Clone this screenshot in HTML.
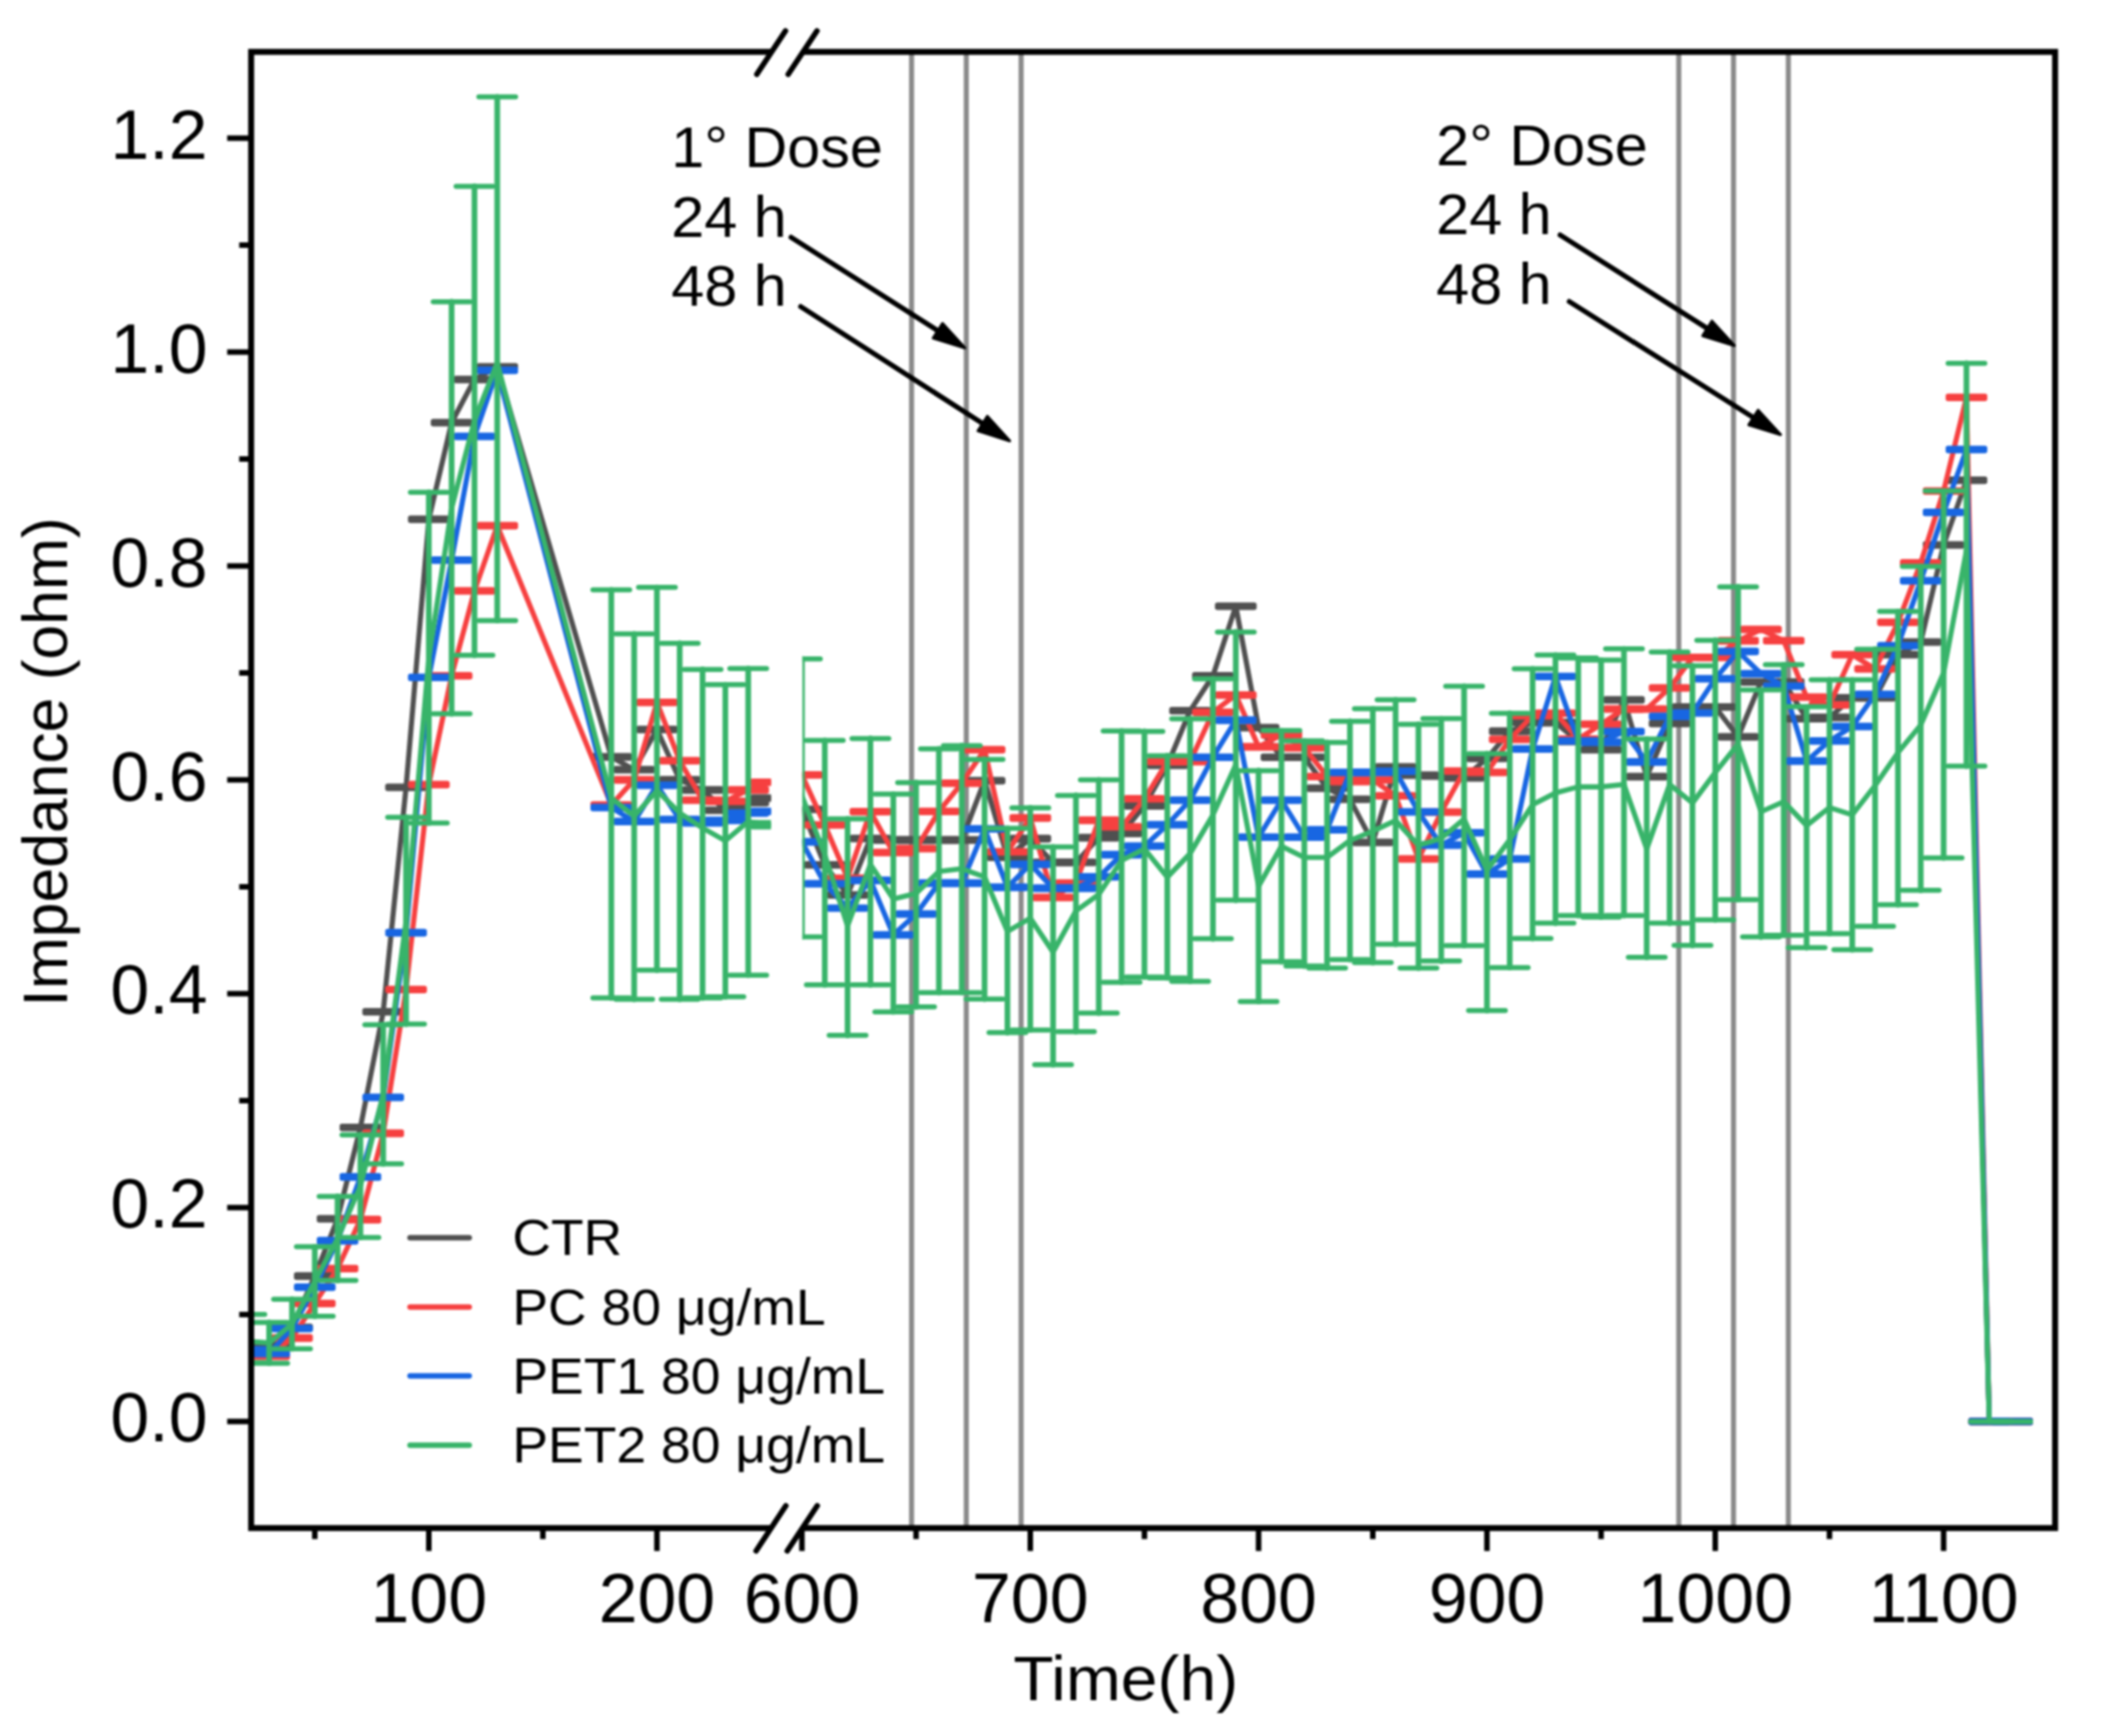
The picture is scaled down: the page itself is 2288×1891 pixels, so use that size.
<!DOCTYPE html>
<html><head><meta charset="utf-8"><title>Impedance chart</title>
<style>html,body{margin:0;padding:0;background:#fff;}svg{display:block;filter:blur(1px);}</style>
</head><body>
<svg width="2288" height="1891" viewBox="0 0 2288 1891"><defs>
<clipPath id="clipL"><rect x="273.5" y="56.6" width="566.1" height="1607.9"/></clipPath>
<clipPath id="clipR"><rect x="873.8" y="56.6" width="1364.2" height="1607.9"/></clipPath>
</defs><rect width="2288" height="1891" fill="#fff"/><line x1="992.7" y1="56.6" x2="992.7" y2="1664.5" stroke="#8a8a8a" stroke-width="5.5"/>
<line x1="1052.3" y1="56.6" x2="1052.3" y2="1664.5" stroke="#8a8a8a" stroke-width="5.5"/>
<line x1="1112.0" y1="56.6" x2="1112.0" y2="1664.5" stroke="#8a8a8a" stroke-width="5.5"/>
<line x1="1828.2" y1="56.6" x2="1828.2" y2="1664.5" stroke="#8a8a8a" stroke-width="5.5"/>
<line x1="1887.8" y1="56.6" x2="1887.8" y2="1664.5" stroke="#8a8a8a" stroke-width="5.5"/>
<line x1="1947.5" y1="56.6" x2="1947.5" y2="1664.5" stroke="#8a8a8a" stroke-width="5.5"/>
<g clip-path="url(#clipL)" stroke="#505050" stroke-linecap="round" fill="none"><g stroke-width="5.5"><line x1="248.3" y1="1463.1" x2="288.3" y2="1463.1"/><line x1="248.3" y1="1465.9" x2="288.3" y2="1465.9"/><line x1="273.1" y1="1463.1" x2="313.1" y2="1463.1"/><line x1="273.1" y1="1465.9" x2="313.1" y2="1465.9"/><line x1="298.0" y1="1444.5" x2="338.0" y2="1444.5"/><line x1="298.0" y1="1447.3" x2="338.0" y2="1447.3"/><line x1="322.8" y1="1388.6" x2="362.8" y2="1388.6"/><line x1="322.8" y1="1391.4" x2="362.8" y2="1391.4"/><line x1="347.6" y1="1326.3" x2="387.6" y2="1326.3"/><line x1="347.6" y1="1329.0" x2="387.6" y2="1329.0"/><line x1="372.5" y1="1226.7" x2="412.5" y2="1226.7"/><line x1="372.5" y1="1229.5" x2="412.5" y2="1229.5"/><line x1="397.3" y1="1100.8" x2="437.3" y2="1100.8"/><line x1="397.3" y1="1103.6" x2="437.3" y2="1103.6"/><line x1="422.2" y1="856.2" x2="462.2" y2="856.2"/><line x1="422.2" y1="859.0" x2="462.2" y2="859.0"/><line x1="447.0" y1="564.3" x2="487.0" y2="564.3"/><line x1="447.0" y1="567.1" x2="487.0" y2="567.1"/><line x1="471.8" y1="459.0" x2="511.8" y2="459.0"/><line x1="471.8" y1="461.8" x2="511.8" y2="461.8"/><line x1="496.7" y1="411.9" x2="536.7" y2="411.9"/><line x1="496.7" y1="414.7" x2="536.7" y2="414.7"/><line x1="521.5" y1="398.2" x2="561.5" y2="398.2"/><line x1="521.5" y1="401.0" x2="561.5" y2="401.0"/><line x1="645.7" y1="823.1" x2="685.7" y2="823.1"/><line x1="645.7" y1="825.9" x2="685.7" y2="825.9"/><line x1="670.6" y1="837.0" x2="710.6" y2="837.0"/><line x1="670.6" y1="839.8" x2="710.6" y2="839.8"/><line x1="695.4" y1="793.3" x2="735.4" y2="793.3"/><line x1="695.4" y1="796.1" x2="735.4" y2="796.1"/><line x1="720.2" y1="848.1" x2="760.2" y2="848.1"/><line x1="720.2" y1="850.9" x2="760.2" y2="850.9"/><line x1="745.1" y1="859.1" x2="785.1" y2="859.1"/><line x1="745.1" y1="861.9" x2="785.1" y2="861.9"/><line x1="769.9" y1="881.3" x2="809.9" y2="881.3"/><line x1="769.9" y1="884.1" x2="809.9" y2="884.1"/><line x1="794.8" y1="872.9" x2="834.8" y2="872.9"/><line x1="794.8" y1="875.7" x2="834.8" y2="875.7"/><line x1="819.6" y1="867.9" x2="859.6" y2="867.9"/><line x1="819.6" y1="870.7" x2="859.6" y2="870.7"/></g><path d="M268.3,1464.5 L293.1,1464.5 L318.0,1445.9 L342.8,1390.0 L367.6,1327.7 L392.5,1228.1 L417.3,1102.2 L442.2,857.6 L467.0,565.7 L491.8,460.4 L516.7,413.3 L541.5,399.6 L665.7,824.5 L690.6,838.4 L715.4,794.7 L740.2,849.5 L765.1,860.5 L789.9,882.7 L814.8,874.3 L839.6,869.3" stroke-width="5.6" stroke-linejoin="round"/></g>
<g clip-path="url(#clipR)" stroke="#505050" stroke-linecap="round" fill="none"><g stroke-width="5.5"><line x1="853.3" y1="880.3" x2="893.3" y2="880.3"/><line x1="853.3" y1="883.1" x2="893.3" y2="883.1"/><line x1="878.2" y1="940.7" x2="918.2" y2="940.7"/><line x1="878.2" y1="943.5" x2="918.2" y2="943.5"/><line x1="903.0" y1="973.4" x2="943.0" y2="973.4"/><line x1="903.0" y1="976.2" x2="943.0" y2="976.2"/><line x1="927.9" y1="912.0" x2="967.9" y2="912.0"/><line x1="927.9" y1="914.8" x2="967.9" y2="914.8"/><line x1="952.8" y1="913.6" x2="992.8" y2="913.6"/><line x1="952.8" y1="916.4" x2="992.8" y2="916.4"/><line x1="977.6" y1="913.6" x2="1017.6" y2="913.6"/><line x1="977.6" y1="916.4" x2="1017.6" y2="916.4"/><line x1="1002.5" y1="913.6" x2="1042.5" y2="913.6"/><line x1="1002.5" y1="916.4" x2="1042.5" y2="916.4"/><line x1="1027.4" y1="913.6" x2="1067.4" y2="913.6"/><line x1="1027.4" y1="916.4" x2="1067.4" y2="916.4"/><line x1="1052.2" y1="848.9" x2="1092.2" y2="848.9"/><line x1="1052.2" y1="851.7" x2="1092.2" y2="851.7"/><line x1="1077.1" y1="932.4" x2="1117.1" y2="932.4"/><line x1="1077.1" y1="935.2" x2="1117.1" y2="935.2"/><line x1="1102.0" y1="912.1" x2="1142.0" y2="912.1"/><line x1="1102.0" y1="914.9" x2="1142.0" y2="914.9"/><line x1="1126.8" y1="938.0" x2="1166.8" y2="938.0"/><line x1="1126.8" y1="940.8" x2="1166.8" y2="940.8"/><line x1="1151.7" y1="938.0" x2="1191.7" y2="938.0"/><line x1="1151.7" y1="940.8" x2="1191.7" y2="940.8"/><line x1="1176.6" y1="911.1" x2="1216.6" y2="911.1"/><line x1="1176.6" y1="913.9" x2="1216.6" y2="913.9"/><line x1="1201.4" y1="906.5" x2="1241.4" y2="906.5"/><line x1="1201.4" y1="909.3" x2="1241.4" y2="909.3"/><line x1="1226.3" y1="876.4" x2="1266.3" y2="876.4"/><line x1="1226.3" y1="879.2" x2="1266.3" y2="879.2"/><line x1="1251.2" y1="832.3" x2="1291.2" y2="832.3"/><line x1="1251.2" y1="835.1" x2="1291.2" y2="835.1"/><line x1="1276.0" y1="772.8" x2="1316.0" y2="772.8"/><line x1="1276.0" y1="775.6" x2="1316.0" y2="775.6"/><line x1="1300.9" y1="734.7" x2="1340.9" y2="734.7"/><line x1="1300.9" y1="737.5" x2="1340.9" y2="737.5"/><line x1="1325.8" y1="658.9" x2="1365.8" y2="658.9"/><line x1="1325.8" y1="661.7" x2="1365.8" y2="661.7"/><line x1="1350.6" y1="791.2" x2="1390.6" y2="791.2"/><line x1="1350.6" y1="794.0" x2="1390.6" y2="794.0"/><line x1="1375.5" y1="823.4" x2="1415.5" y2="823.4"/><line x1="1375.5" y1="826.2" x2="1415.5" y2="826.2"/><line x1="1400.4" y1="823.4" x2="1440.4" y2="823.4"/><line x1="1400.4" y1="826.2" x2="1440.4" y2="826.2"/><line x1="1425.2" y1="857.3" x2="1465.2" y2="857.3"/><line x1="1425.2" y1="860.1" x2="1465.2" y2="860.1"/><line x1="1450.1" y1="869.3" x2="1490.1" y2="869.3"/><line x1="1450.1" y1="872.1" x2="1490.1" y2="872.1"/><line x1="1475.0" y1="916.3" x2="1515.0" y2="916.3"/><line x1="1475.0" y1="919.1" x2="1515.0" y2="919.1"/><line x1="1499.8" y1="834.0" x2="1539.8" y2="834.0"/><line x1="1499.8" y1="836.8" x2="1539.8" y2="836.8"/><line x1="1524.7" y1="842.9" x2="1564.7" y2="842.9"/><line x1="1524.7" y1="845.7" x2="1564.7" y2="845.7"/><line x1="1549.5" y1="844.0" x2="1589.5" y2="844.0"/><line x1="1549.5" y1="846.8" x2="1589.5" y2="846.8"/><line x1="1574.4" y1="846.0" x2="1614.4" y2="846.0"/><line x1="1574.4" y1="848.8" x2="1614.4" y2="848.8"/><line x1="1599.3" y1="824.8" x2="1639.3" y2="824.8"/><line x1="1599.3" y1="827.6" x2="1639.3" y2="827.6"/><line x1="1624.1" y1="795.1" x2="1664.1" y2="795.1"/><line x1="1624.1" y1="797.9" x2="1664.1" y2="797.9"/><line x1="1649.0" y1="785.6" x2="1689.0" y2="785.6"/><line x1="1649.0" y1="788.4" x2="1689.0" y2="788.4"/><line x1="1673.9" y1="785.6" x2="1713.9" y2="785.6"/><line x1="1673.9" y1="788.4" x2="1713.9" y2="788.4"/><line x1="1698.7" y1="806.1" x2="1738.7" y2="806.1"/><line x1="1698.7" y1="808.9" x2="1738.7" y2="808.9"/><line x1="1723.6" y1="815.3" x2="1763.6" y2="815.3"/><line x1="1723.6" y1="818.1" x2="1763.6" y2="818.1"/><line x1="1748.5" y1="760.9" x2="1788.5" y2="760.9"/><line x1="1748.5" y1="763.7" x2="1788.5" y2="763.7"/><line x1="1773.3" y1="844.6" x2="1813.3" y2="844.6"/><line x1="1773.3" y1="847.4" x2="1813.3" y2="847.4"/><line x1="1798.2" y1="786.8" x2="1838.2" y2="786.8"/><line x1="1798.2" y1="789.6" x2="1838.2" y2="789.6"/><line x1="1823.1" y1="768.8" x2="1863.1" y2="768.8"/><line x1="1823.1" y1="771.6" x2="1863.1" y2="771.6"/><line x1="1847.9" y1="768.8" x2="1887.9" y2="768.8"/><line x1="1847.9" y1="771.6" x2="1887.9" y2="771.6"/><line x1="1872.8" y1="801.2" x2="1912.8" y2="801.2"/><line x1="1872.8" y1="804.0" x2="1912.8" y2="804.0"/><line x1="1897.7" y1="741.4" x2="1937.7" y2="741.4"/><line x1="1897.7" y1="744.2" x2="1937.7" y2="744.2"/><line x1="1922.5" y1="741.4" x2="1962.5" y2="741.4"/><line x1="1922.5" y1="744.2" x2="1962.5" y2="744.2"/><line x1="1947.4" y1="781.5" x2="1987.4" y2="781.5"/><line x1="1947.4" y1="784.3" x2="1987.4" y2="784.3"/><line x1="1972.3" y1="780.1" x2="2012.3" y2="780.1"/><line x1="1972.3" y1="782.9" x2="2012.3" y2="782.9"/><line x1="1997.1" y1="758.7" x2="2037.1" y2="758.7"/><line x1="1997.1" y1="761.5" x2="2037.1" y2="761.5"/><line x1="2022.0" y1="758.7" x2="2062.0" y2="758.7"/><line x1="2022.0" y1="761.5" x2="2062.0" y2="761.5"/><line x1="2046.9" y1="711.8" x2="2086.9" y2="711.8"/><line x1="2046.9" y1="714.6" x2="2086.9" y2="714.6"/><line x1="2071.7" y1="698.0" x2="2111.7" y2="698.0"/><line x1="2071.7" y1="700.8" x2="2111.7" y2="700.8"/><line x1="2096.6" y1="592.3" x2="2136.6" y2="592.3"/><line x1="2096.6" y1="595.0" x2="2136.6" y2="595.0"/><line x1="2121.5" y1="521.7" x2="2161.5" y2="521.7"/><line x1="2121.5" y1="524.5" x2="2161.5" y2="524.5"/><line x1="2146.3" y1="1547.0" x2="2186.3" y2="1547.0"/><line x1="2146.3" y1="1549.8" x2="2186.3" y2="1549.8"/><line x1="2171.2" y1="1547.0" x2="2211.2" y2="1547.0"/><line x1="2171.2" y1="1549.8" x2="2211.2" y2="1549.8"/></g><path d="M873.3,881.7 L898.2,942.1 L923.0,974.8 L947.9,913.4 L972.8,915.0 L997.6,915.0 L1022.5,915.0 L1047.4,915.0 L1072.2,850.3 L1097.1,933.8 L1122.0,913.5 L1146.8,939.4 L1171.7,939.4 L1196.6,912.5 L1221.4,907.9 L1246.3,877.8 L1271.2,833.7 L1296.0,774.2 L1320.9,736.1 L1345.8,660.3 L1370.6,792.6 L1395.5,824.8 L1420.4,824.8 L1445.2,858.7 L1470.1,870.7 L1495.0,917.7 L1519.8,835.4 L1544.7,844.3 L1569.5,845.4 L1594.4,847.4 L1619.3,826.2 L1644.1,796.5 L1669.0,787.0 L1693.9,787.0 L1718.7,807.5 L1743.6,816.7 L1768.5,762.3 L1793.3,846.0 L1818.2,788.2 L1843.1,770.2 L1867.9,770.2 L1892.8,802.6 L1917.7,742.8 L1942.5,742.8 L1967.4,782.9 L1992.3,781.5 L2017.1,760.1 L2042.0,760.1 L2066.9,713.2 L2091.7,699.4 L2116.6,593.6 L2141.5,523.1 L2166.3,1548.4 L2191.2,1548.4" stroke-width="5.6" stroke-linejoin="round"/></g>
<g clip-path="url(#clipL)" stroke="#f64040" stroke-linecap="round" fill="none"><g stroke-width="5.5"><line x1="248.3" y1="1474.8" x2="288.3" y2="1474.8"/><line x1="248.3" y1="1477.6" x2="288.3" y2="1477.6"/><line x1="273.1" y1="1475.9" x2="313.1" y2="1475.9"/><line x1="273.1" y1="1478.7" x2="313.1" y2="1478.7"/><line x1="298.0" y1="1456.1" x2="338.0" y2="1456.1"/><line x1="298.0" y1="1458.9" x2="338.0" y2="1458.9"/><line x1="322.8" y1="1418.4" x2="362.8" y2="1418.4"/><line x1="322.8" y1="1421.2" x2="362.8" y2="1421.2"/><line x1="347.6" y1="1380.5" x2="387.6" y2="1380.5"/><line x1="347.6" y1="1383.3" x2="387.6" y2="1383.3"/><line x1="372.5" y1="1327.1" x2="412.5" y2="1327.1"/><line x1="372.5" y1="1329.9" x2="412.5" y2="1329.9"/><line x1="397.3" y1="1233.1" x2="437.3" y2="1233.1"/><line x1="397.3" y1="1235.9" x2="437.3" y2="1235.9"/><line x1="422.2" y1="1076.4" x2="462.2" y2="1076.4"/><line x1="422.2" y1="1079.2" x2="462.2" y2="1079.2"/><line x1="447.0" y1="853.2" x2="487.0" y2="853.2"/><line x1="447.0" y1="856.0" x2="487.0" y2="856.0"/><line x1="471.8" y1="734.7" x2="511.8" y2="734.7"/><line x1="471.8" y1="737.5" x2="511.8" y2="737.5"/><line x1="496.7" y1="642.3" x2="536.7" y2="642.3"/><line x1="496.7" y1="645.1" x2="536.7" y2="645.1"/><line x1="521.5" y1="571.2" x2="561.5" y2="571.2"/><line x1="521.5" y1="574.0" x2="561.5" y2="574.0"/><line x1="645.7" y1="875.4" x2="685.7" y2="875.4"/><line x1="645.7" y1="878.2" x2="685.7" y2="878.2"/><line x1="670.6" y1="848.1" x2="710.6" y2="848.1"/><line x1="670.6" y1="850.9" x2="710.6" y2="850.9"/><line x1="695.4" y1="763.7" x2="735.4" y2="763.7"/><line x1="695.4" y1="766.5" x2="735.4" y2="766.5"/><line x1="720.2" y1="827.3" x2="760.2" y2="827.3"/><line x1="720.2" y1="830.1" x2="760.2" y2="830.1"/><line x1="745.1" y1="870.2" x2="785.1" y2="870.2"/><line x1="745.1" y1="873.0" x2="785.1" y2="873.0"/><line x1="769.9" y1="871.4" x2="809.9" y2="871.4"/><line x1="769.9" y1="874.2" x2="809.9" y2="874.2"/><line x1="794.8" y1="859.1" x2="834.8" y2="859.1"/><line x1="794.8" y1="861.9" x2="834.8" y2="861.9"/><line x1="819.6" y1="850.7" x2="859.6" y2="850.7"/><line x1="819.6" y1="853.5" x2="859.6" y2="853.5"/></g><path d="M268.3,1476.2 L293.1,1477.3 L318.0,1457.5 L342.8,1419.8 L367.6,1381.9 L392.5,1328.5 L417.3,1234.5 L442.2,1077.8 L467.0,854.6 L491.8,736.1 L516.7,643.7 L541.5,572.6 L665.7,876.8 L690.6,849.5 L715.4,765.1 L740.2,828.7 L765.1,871.6 L789.9,872.8 L814.8,860.5 L839.6,852.1" stroke-width="5.6" stroke-linejoin="round"/></g>
<g clip-path="url(#clipR)" stroke="#f64040" stroke-linecap="round" fill="none"><g stroke-width="5.5"><line x1="853.3" y1="842.8" x2="893.3" y2="842.8"/><line x1="853.3" y1="845.6" x2="893.3" y2="845.6"/><line x1="878.2" y1="897.2" x2="918.2" y2="897.2"/><line x1="878.2" y1="900.0" x2="918.2" y2="900.0"/><line x1="903.0" y1="955.2" x2="943.0" y2="955.2"/><line x1="903.0" y1="958.0" x2="943.0" y2="958.0"/><line x1="927.9" y1="882.7" x2="967.9" y2="882.7"/><line x1="927.9" y1="885.5" x2="967.9" y2="885.5"/><line x1="952.8" y1="927.3" x2="992.8" y2="927.3"/><line x1="952.8" y1="930.1" x2="992.8" y2="930.1"/><line x1="977.6" y1="923.0" x2="1017.6" y2="923.0"/><line x1="977.6" y1="925.8" x2="1017.6" y2="925.8"/><line x1="1002.5" y1="882.4" x2="1042.5" y2="882.4"/><line x1="1002.5" y1="885.2" x2="1042.5" y2="885.2"/><line x1="1027.4" y1="851.8" x2="1067.4" y2="851.8"/><line x1="1027.4" y1="854.6" x2="1067.4" y2="854.6"/><line x1="1052.2" y1="815.2" x2="1092.2" y2="815.2"/><line x1="1052.2" y1="818.0" x2="1092.2" y2="818.0"/><line x1="1077.1" y1="926.5" x2="1117.1" y2="926.5"/><line x1="1077.1" y1="929.3" x2="1117.1" y2="929.3"/><line x1="1102.0" y1="889.6" x2="1142.0" y2="889.6"/><line x1="1102.0" y1="892.4" x2="1142.0" y2="892.4"/><line x1="1126.8" y1="976.2" x2="1166.8" y2="976.2"/><line x1="1126.8" y1="979.0" x2="1166.8" y2="979.0"/><line x1="1151.7" y1="960.5" x2="1191.7" y2="960.5"/><line x1="1151.7" y1="963.3" x2="1191.7" y2="963.3"/><line x1="1176.6" y1="892.1" x2="1216.6" y2="892.1"/><line x1="1176.6" y1="894.9" x2="1216.6" y2="894.9"/><line x1="1201.4" y1="899.2" x2="1241.4" y2="899.2"/><line x1="1201.4" y1="902.0" x2="1241.4" y2="902.0"/><line x1="1226.3" y1="868.8" x2="1266.3" y2="868.8"/><line x1="1226.3" y1="871.6" x2="1266.3" y2="871.6"/><line x1="1251.2" y1="828.3" x2="1291.2" y2="828.3"/><line x1="1251.2" y1="831.1" x2="1291.2" y2="831.1"/><line x1="1276.0" y1="828.3" x2="1316.0" y2="828.3"/><line x1="1276.0" y1="831.1" x2="1316.0" y2="831.1"/><line x1="1300.9" y1="774.4" x2="1340.9" y2="774.4"/><line x1="1300.9" y1="777.2" x2="1340.9" y2="777.2"/><line x1="1325.8" y1="755.7" x2="1365.8" y2="755.7"/><line x1="1325.8" y1="758.5" x2="1365.8" y2="758.5"/><line x1="1350.6" y1="812.1" x2="1390.6" y2="812.1"/><line x1="1350.6" y1="814.9" x2="1390.6" y2="814.9"/><line x1="1375.5" y1="799.1" x2="1415.5" y2="799.1"/><line x1="1375.5" y1="801.9" x2="1415.5" y2="801.9"/><line x1="1400.4" y1="813.1" x2="1440.4" y2="813.1"/><line x1="1400.4" y1="815.9" x2="1440.4" y2="815.9"/><line x1="1425.2" y1="844.5" x2="1465.2" y2="844.5"/><line x1="1425.2" y1="847.2" x2="1465.2" y2="847.2"/><line x1="1450.1" y1="850.0" x2="1490.1" y2="850.0"/><line x1="1450.1" y1="852.8" x2="1490.1" y2="852.8"/><line x1="1475.0" y1="848.1" x2="1515.0" y2="848.1"/><line x1="1475.0" y1="850.9" x2="1515.0" y2="850.9"/><line x1="1499.8" y1="865.5" x2="1539.8" y2="865.5"/><line x1="1499.8" y1="868.3" x2="1539.8" y2="868.3"/><line x1="1524.7" y1="934.3" x2="1564.7" y2="934.3"/><line x1="1524.7" y1="937.1" x2="1564.7" y2="937.1"/><line x1="1549.5" y1="883.2" x2="1589.5" y2="883.2"/><line x1="1549.5" y1="886.0" x2="1589.5" y2="886.0"/><line x1="1574.4" y1="838.4" x2="1614.4" y2="838.4"/><line x1="1574.4" y1="841.2" x2="1614.4" y2="841.2"/><line x1="1599.3" y1="839.9" x2="1639.3" y2="839.9"/><line x1="1599.3" y1="842.7" x2="1639.3" y2="842.7"/><line x1="1624.1" y1="804.0" x2="1664.1" y2="804.0"/><line x1="1624.1" y1="806.8" x2="1664.1" y2="806.8"/><line x1="1649.0" y1="778.2" x2="1689.0" y2="778.2"/><line x1="1649.0" y1="781.0" x2="1689.0" y2="781.0"/><line x1="1673.9" y1="775.5" x2="1713.9" y2="775.5"/><line x1="1673.9" y1="778.3" x2="1713.9" y2="778.3"/><line x1="1698.7" y1="803.8" x2="1738.7" y2="803.8"/><line x1="1698.7" y1="806.6" x2="1738.7" y2="806.6"/><line x1="1723.6" y1="787.5" x2="1763.6" y2="787.5"/><line x1="1723.6" y1="790.3" x2="1763.6" y2="790.3"/><line x1="1748.5" y1="770.9" x2="1788.5" y2="770.9"/><line x1="1748.5" y1="773.7" x2="1788.5" y2="773.7"/><line x1="1773.3" y1="770.9" x2="1813.3" y2="770.9"/><line x1="1773.3" y1="773.7" x2="1813.3" y2="773.7"/><line x1="1798.2" y1="748.0" x2="1838.2" y2="748.0"/><line x1="1798.2" y1="750.8" x2="1838.2" y2="750.8"/><line x1="1823.1" y1="714.8" x2="1863.1" y2="714.8"/><line x1="1823.1" y1="717.6" x2="1863.1" y2="717.6"/><line x1="1847.9" y1="714.8" x2="1887.9" y2="714.8"/><line x1="1847.9" y1="717.6" x2="1887.9" y2="717.6"/><line x1="1872.8" y1="696.6" x2="1912.8" y2="696.6"/><line x1="1872.8" y1="699.4" x2="1912.8" y2="699.4"/><line x1="1897.7" y1="684.3" x2="1937.7" y2="684.3"/><line x1="1897.7" y1="687.1" x2="1937.7" y2="687.1"/><line x1="1922.5" y1="696.5" x2="1962.5" y2="696.5"/><line x1="1922.5" y1="699.3" x2="1962.5" y2="699.3"/><line x1="1947.4" y1="757.9" x2="1987.4" y2="757.9"/><line x1="1947.4" y1="760.7" x2="1987.4" y2="760.7"/><line x1="1972.3" y1="766.5" x2="2012.3" y2="766.5"/><line x1="1972.3" y1="769.3" x2="2012.3" y2="769.3"/><line x1="1997.1" y1="711.8" x2="2037.1" y2="711.8"/><line x1="1997.1" y1="714.6" x2="2037.1" y2="714.6"/><line x1="2022.0" y1="727.3" x2="2062.0" y2="727.3"/><line x1="2022.0" y1="730.1" x2="2062.0" y2="730.1"/><line x1="2046.9" y1="676.5" x2="2086.9" y2="676.5"/><line x1="2046.9" y1="679.3" x2="2086.9" y2="679.3"/><line x1="2071.7" y1="611.8" x2="2111.7" y2="611.8"/><line x1="2071.7" y1="614.6" x2="2111.7" y2="614.6"/><line x1="2096.6" y1="533.5" x2="2136.6" y2="533.5"/><line x1="2096.6" y1="536.3" x2="2136.6" y2="536.3"/><line x1="2121.5" y1="431.5" x2="2161.5" y2="431.5"/><line x1="2121.5" y1="434.3" x2="2161.5" y2="434.3"/><line x1="2146.3" y1="1547.0" x2="2186.3" y2="1547.0"/><line x1="2146.3" y1="1549.8" x2="2186.3" y2="1549.8"/><line x1="2171.2" y1="1547.0" x2="2211.2" y2="1547.0"/><line x1="2171.2" y1="1549.8" x2="2211.2" y2="1549.8"/></g><path d="M873.3,844.2 L898.2,898.6 L923.0,956.6 L947.9,884.1 L972.8,928.7 L997.6,924.4 L1022.5,883.8 L1047.4,853.2 L1072.2,816.6 L1097.1,927.9 L1122.0,891.0 L1146.8,977.6 L1171.7,961.9 L1196.6,893.5 L1221.4,900.6 L1246.3,870.2 L1271.2,829.7 L1296.0,829.7 L1320.9,775.8 L1345.8,757.1 L1370.6,813.5 L1395.5,800.5 L1420.4,814.5 L1445.2,845.8 L1470.1,851.4 L1495.0,849.5 L1519.8,866.9 L1544.7,935.7 L1569.5,884.6 L1594.4,839.8 L1619.3,841.3 L1644.1,805.4 L1669.0,779.6 L1693.9,776.9 L1718.7,805.2 L1743.6,788.9 L1768.5,772.3 L1793.3,772.3 L1818.2,749.4 L1843.1,716.2 L1867.9,716.2 L1892.8,698.0 L1917.7,685.7 L1942.5,697.9 L1967.4,759.3 L1992.3,767.9 L2017.1,713.2 L2042.0,728.7 L2066.9,677.9 L2091.7,613.2 L2116.6,534.9 L2141.5,432.9 L2166.3,1548.4 L2191.2,1548.4" stroke-width="5.6" stroke-linejoin="round"/></g>
<g clip-path="url(#clipL)" stroke="#1866e2" stroke-linecap="round" fill="none"><g stroke-width="5.5"><line x1="248.3" y1="1469.0" x2="288.3" y2="1469.0"/><line x1="248.3" y1="1471.7" x2="288.3" y2="1471.7"/><line x1="273.1" y1="1472.9" x2="313.1" y2="1472.9"/><line x1="273.1" y1="1475.7" x2="313.1" y2="1475.7"/><line x1="298.0" y1="1445.7" x2="338.0" y2="1445.7"/><line x1="298.0" y1="1448.5" x2="338.0" y2="1448.5"/><line x1="322.8" y1="1400.8" x2="362.8" y2="1400.8"/><line x1="322.8" y1="1403.6" x2="362.8" y2="1403.6"/><line x1="347.6" y1="1350.1" x2="387.6" y2="1350.1"/><line x1="347.6" y1="1352.9" x2="387.6" y2="1352.9"/><line x1="372.5" y1="1280.6" x2="412.5" y2="1280.6"/><line x1="372.5" y1="1283.4" x2="412.5" y2="1283.4"/><line x1="397.3" y1="1194.0" x2="437.3" y2="1194.0"/><line x1="397.3" y1="1196.8" x2="437.3" y2="1196.8"/><line x1="422.2" y1="1014.6" x2="462.2" y2="1014.6"/><line x1="422.2" y1="1017.4" x2="462.2" y2="1017.4"/><line x1="447.0" y1="736.5" x2="487.0" y2="736.5"/><line x1="447.0" y1="739.3" x2="487.0" y2="739.3"/><line x1="471.8" y1="608.8" x2="511.8" y2="608.8"/><line x1="471.8" y1="611.6" x2="511.8" y2="611.6"/><line x1="496.7" y1="473.9" x2="536.7" y2="473.9"/><line x1="496.7" y1="476.7" x2="536.7" y2="476.7"/><line x1="521.5" y1="401.9" x2="561.5" y2="401.9"/><line x1="521.5" y1="404.7" x2="561.5" y2="404.7"/><line x1="645.7" y1="878.3" x2="685.7" y2="878.3"/><line x1="645.7" y1="881.1" x2="685.7" y2="881.1"/><line x1="670.6" y1="893.5" x2="710.6" y2="893.5"/><line x1="670.6" y1="896.3" x2="710.6" y2="896.3"/><line x1="695.4" y1="853.9" x2="735.4" y2="853.9"/><line x1="695.4" y1="856.7" x2="735.4" y2="856.7"/><line x1="720.2" y1="891.2" x2="760.2" y2="891.2"/><line x1="720.2" y1="894.0" x2="760.2" y2="894.0"/><line x1="745.1" y1="895.0" x2="785.1" y2="895.0"/><line x1="745.1" y1="897.8" x2="785.1" y2="897.8"/><line x1="769.9" y1="892.3" x2="809.9" y2="892.3"/><line x1="769.9" y1="895.1" x2="809.9" y2="895.1"/><line x1="794.8" y1="884.2" x2="834.8" y2="884.2"/><line x1="794.8" y1="887.0" x2="834.8" y2="887.0"/><line x1="819.6" y1="882.4" x2="859.6" y2="882.4"/><line x1="819.6" y1="885.2" x2="859.6" y2="885.2"/></g><path d="M268.3,1470.4 L293.1,1474.3 L318.0,1447.1 L342.8,1402.2 L367.6,1351.5 L392.5,1282.0 L417.3,1195.4 L442.2,1016.0 L467.0,737.9 L491.8,610.2 L516.7,475.3 L541.5,403.3 L665.7,879.7 L690.6,894.9 L715.4,855.3 L740.2,892.6 L765.1,896.4 L789.9,893.7 L814.8,885.6 L839.6,883.8" stroke-width="5.6" stroke-linejoin="round"/></g>
<g clip-path="url(#clipR)" stroke="#1866e2" stroke-linecap="round" fill="none"><g stroke-width="5.5"><line x1="853.3" y1="915.6" x2="893.3" y2="915.6"/><line x1="853.3" y1="918.4" x2="893.3" y2="918.4"/><line x1="878.2" y1="961.3" x2="918.2" y2="961.3"/><line x1="878.2" y1="964.1" x2="918.2" y2="964.1"/><line x1="903.0" y1="987.9" x2="943.0" y2="987.9"/><line x1="903.0" y1="990.6" x2="943.0" y2="990.6"/><line x1="927.9" y1="957.6" x2="967.9" y2="957.6"/><line x1="927.9" y1="960.4" x2="967.9" y2="960.4"/><line x1="952.8" y1="1016.9" x2="992.8" y2="1016.9"/><line x1="952.8" y1="1019.7" x2="992.8" y2="1019.7"/><line x1="977.6" y1="994.3" x2="1017.6" y2="994.3"/><line x1="977.6" y1="997.1" x2="1017.6" y2="997.1"/><line x1="1002.5" y1="960.6" x2="1042.5" y2="960.6"/><line x1="1002.5" y1="963.4" x2="1042.5" y2="963.4"/><line x1="1027.4" y1="960.6" x2="1067.4" y2="960.6"/><line x1="1027.4" y1="963.4" x2="1067.4" y2="963.4"/><line x1="1052.2" y1="901.4" x2="1092.2" y2="901.4"/><line x1="1052.2" y1="904.2" x2="1092.2" y2="904.2"/><line x1="1077.1" y1="965.1" x2="1117.1" y2="965.1"/><line x1="1077.1" y1="967.9" x2="1117.1" y2="967.9"/><line x1="1102.0" y1="940.1" x2="1142.0" y2="940.1"/><line x1="1102.0" y1="942.9" x2="1142.0" y2="942.9"/><line x1="1126.8" y1="966.1" x2="1166.8" y2="966.1"/><line x1="1126.8" y1="968.9" x2="1166.8" y2="968.9"/><line x1="1151.7" y1="966.1" x2="1191.7" y2="966.1"/><line x1="1151.7" y1="968.9" x2="1191.7" y2="968.9"/><line x1="1176.6" y1="953.8" x2="1216.6" y2="953.8"/><line x1="1176.6" y1="956.6" x2="1216.6" y2="956.6"/><line x1="1201.4" y1="929.6" x2="1241.4" y2="929.6"/><line x1="1201.4" y1="932.4" x2="1241.4" y2="932.4"/><line x1="1226.3" y1="920.3" x2="1266.3" y2="920.3"/><line x1="1226.3" y1="923.1" x2="1266.3" y2="923.1"/><line x1="1251.2" y1="897.0" x2="1291.2" y2="897.0"/><line x1="1251.2" y1="899.8" x2="1291.2" y2="899.8"/><line x1="1276.0" y1="870.2" x2="1316.0" y2="870.2"/><line x1="1276.0" y1="873.0" x2="1316.0" y2="873.0"/><line x1="1300.9" y1="823.4" x2="1340.9" y2="823.4"/><line x1="1300.9" y1="826.2" x2="1340.9" y2="826.2"/><line x1="1325.8" y1="783.1" x2="1365.8" y2="783.1"/><line x1="1325.8" y1="785.9" x2="1365.8" y2="785.9"/><line x1="1350.6" y1="910.5" x2="1390.6" y2="910.5"/><line x1="1350.6" y1="913.3" x2="1390.6" y2="913.3"/><line x1="1375.5" y1="870.2" x2="1415.5" y2="870.2"/><line x1="1375.5" y1="873.0" x2="1415.5" y2="873.0"/><line x1="1400.4" y1="910.5" x2="1440.4" y2="910.5"/><line x1="1400.4" y1="913.3" x2="1440.4" y2="913.3"/><line x1="1425.2" y1="902.5" x2="1465.2" y2="902.5"/><line x1="1425.2" y1="905.3" x2="1465.2" y2="905.3"/><line x1="1450.1" y1="839.9" x2="1490.1" y2="839.9"/><line x1="1450.1" y1="842.7" x2="1490.1" y2="842.7"/><line x1="1475.0" y1="839.9" x2="1515.0" y2="839.9"/><line x1="1475.0" y1="842.7" x2="1515.0" y2="842.7"/><line x1="1499.8" y1="838.7" x2="1539.8" y2="838.7"/><line x1="1499.8" y1="841.5" x2="1539.8" y2="841.5"/><line x1="1524.7" y1="883.0" x2="1564.7" y2="883.0"/><line x1="1524.7" y1="885.8" x2="1564.7" y2="885.8"/><line x1="1549.5" y1="919.1" x2="1589.5" y2="919.1"/><line x1="1549.5" y1="921.9" x2="1589.5" y2="921.9"/><line x1="1574.4" y1="905.8" x2="1614.4" y2="905.8"/><line x1="1574.4" y1="908.6" x2="1614.4" y2="908.6"/><line x1="1599.3" y1="950.7" x2="1639.3" y2="950.7"/><line x1="1599.3" y1="953.5" x2="1639.3" y2="953.5"/><line x1="1624.1" y1="934.3" x2="1664.1" y2="934.3"/><line x1="1624.1" y1="937.1" x2="1664.1" y2="937.1"/><line x1="1649.0" y1="814.4" x2="1689.0" y2="814.4"/><line x1="1649.0" y1="817.2" x2="1689.0" y2="817.2"/><line x1="1673.9" y1="735.5" x2="1713.9" y2="735.5"/><line x1="1673.9" y1="738.3" x2="1713.9" y2="738.3"/><line x1="1698.7" y1="805.7" x2="1738.7" y2="805.7"/><line x1="1698.7" y1="808.5" x2="1738.7" y2="808.5"/><line x1="1723.6" y1="807.1" x2="1763.6" y2="807.1"/><line x1="1723.6" y1="809.9" x2="1763.6" y2="809.9"/><line x1="1748.5" y1="795.5" x2="1788.5" y2="795.5"/><line x1="1748.5" y1="798.3" x2="1788.5" y2="798.3"/><line x1="1773.3" y1="828.6" x2="1813.3" y2="828.6"/><line x1="1773.3" y1="831.4" x2="1813.3" y2="831.4"/><line x1="1798.2" y1="778.9" x2="1838.2" y2="778.9"/><line x1="1798.2" y1="781.7" x2="1838.2" y2="781.7"/><line x1="1823.1" y1="775.3" x2="1863.1" y2="775.3"/><line x1="1823.1" y1="778.1" x2="1863.1" y2="778.1"/><line x1="1847.9" y1="737.9" x2="1887.9" y2="737.9"/><line x1="1847.9" y1="740.7" x2="1887.9" y2="740.7"/><line x1="1872.8" y1="708.3" x2="1912.8" y2="708.3"/><line x1="1872.8" y1="711.1" x2="1912.8" y2="711.1"/><line x1="1897.7" y1="732.4" x2="1937.7" y2="732.4"/><line x1="1897.7" y1="735.2" x2="1937.7" y2="735.2"/><line x1="1922.5" y1="745.9" x2="1962.5" y2="745.9"/><line x1="1922.5" y1="748.7" x2="1962.5" y2="748.7"/><line x1="1947.4" y1="827.6" x2="1987.4" y2="827.6"/><line x1="1947.4" y1="830.4" x2="1987.4" y2="830.4"/><line x1="1972.3" y1="805.8" x2="2012.3" y2="805.8"/><line x1="1972.3" y1="808.6" x2="2012.3" y2="808.6"/><line x1="1997.1" y1="790.1" x2="2037.1" y2="790.1"/><line x1="1997.1" y1="792.8" x2="2037.1" y2="792.8"/><line x1="2022.0" y1="754.9" x2="2062.0" y2="754.9"/><line x1="2022.0" y1="757.7" x2="2062.0" y2="757.7"/><line x1="2046.9" y1="701.9" x2="2086.9" y2="701.9"/><line x1="2046.9" y1="704.7" x2="2086.9" y2="704.7"/><line x1="2071.7" y1="631.3" x2="2111.7" y2="631.3"/><line x1="2071.7" y1="634.1" x2="2111.7" y2="634.1"/><line x1="2096.6" y1="556.8" x2="2136.6" y2="556.8"/><line x1="2096.6" y1="559.6" x2="2136.6" y2="559.6"/><line x1="2121.5" y1="488.3" x2="2161.5" y2="488.3"/><line x1="2121.5" y1="491.1" x2="2161.5" y2="491.1"/><line x1="2146.3" y1="1547.0" x2="2186.3" y2="1547.0"/><line x1="2146.3" y1="1549.8" x2="2186.3" y2="1549.8"/><line x1="2171.2" y1="1547.0" x2="2211.2" y2="1547.0"/><line x1="2171.2" y1="1549.8" x2="2211.2" y2="1549.8"/></g><path d="M873.3,917.0 L898.2,962.7 L923.0,989.2 L947.9,959.0 L972.8,1018.3 L997.6,995.7 L1022.5,962.0 L1047.4,962.0 L1072.2,902.8 L1097.1,966.5 L1122.0,941.5 L1146.8,967.5 L1171.7,967.5 L1196.6,955.2 L1221.4,931.0 L1246.3,921.7 L1271.2,898.4 L1296.0,871.6 L1320.9,824.8 L1345.8,784.5 L1370.6,911.9 L1395.5,871.6 L1420.4,911.9 L1445.2,903.9 L1470.1,841.3 L1495.0,841.3 L1519.8,840.1 L1544.7,884.4 L1569.5,920.5 L1594.4,907.2 L1619.3,952.1 L1644.1,935.7 L1669.0,815.8 L1693.9,736.9 L1718.7,807.1 L1743.6,808.5 L1768.5,796.9 L1793.3,830.0 L1818.2,780.3 L1843.1,776.7 L1867.9,739.3 L1892.8,709.7 L1917.7,733.8 L1942.5,747.3 L1967.4,829.0 L1992.3,807.2 L2017.1,791.4 L2042.0,756.3 L2066.9,703.3 L2091.7,632.7 L2116.6,558.2 L2141.5,489.7 L2166.3,1548.4 L2191.2,1548.4" stroke-width="5.6" stroke-linejoin="round"/></g>
<g clip-path="url(#clipL)" stroke="#38b46a" stroke-linecap="round" fill="none"><g stroke-width="5.5"><line x1="268.3" y1="1431.8" x2="268.3" y2="1484.3" stroke-width="6.2"/><line x1="248.3" y1="1431.8" x2="288.3" y2="1431.8"/><line x1="248.3" y1="1484.3" x2="288.3" y2="1484.3"/><line x1="293.1" y1="1440.6" x2="293.1" y2="1485.0" stroke-width="6.2"/><line x1="273.1" y1="1440.6" x2="313.1" y2="1440.6"/><line x1="273.1" y1="1485.0" x2="313.1" y2="1485.0"/><line x1="318.0" y1="1415.3" x2="318.0" y2="1469.2" stroke-width="6.2"/><line x1="298.0" y1="1415.3" x2="338.0" y2="1415.3"/><line x1="298.0" y1="1469.2" x2="338.0" y2="1469.2"/><line x1="342.8" y1="1358.1" x2="342.8" y2="1433.7" stroke-width="6.2"/><line x1="322.8" y1="1358.1" x2="362.8" y2="1358.1"/><line x1="322.8" y1="1433.7" x2="362.8" y2="1433.7"/><line x1="367.6" y1="1303.2" x2="367.6" y2="1394.7" stroke-width="6.2"/><line x1="347.6" y1="1303.2" x2="387.6" y2="1303.2"/><line x1="347.6" y1="1394.7" x2="387.6" y2="1394.7"/><line x1="392.5" y1="1236.2" x2="392.5" y2="1348.0" stroke-width="6.2"/><line x1="372.5" y1="1236.2" x2="412.5" y2="1236.2"/><line x1="372.5" y1="1348.0" x2="412.5" y2="1348.0"/><line x1="417.3" y1="1116.2" x2="417.3" y2="1267.7" stroke-width="6.2"/><line x1="397.3" y1="1116.2" x2="437.3" y2="1116.2"/><line x1="397.3" y1="1267.7" x2="437.3" y2="1267.7"/><line x1="442.2" y1="890.2" x2="442.2" y2="1115.6" stroke-width="6.2"/><line x1="422.2" y1="890.2" x2="462.2" y2="890.2"/><line x1="422.2" y1="1115.6" x2="462.2" y2="1115.6"/><line x1="467.0" y1="536.3" x2="467.0" y2="896.5" stroke-width="6.2"/><line x1="447.0" y1="536.3" x2="487.0" y2="536.3"/><line x1="447.0" y1="896.5" x2="487.0" y2="896.5"/><line x1="491.8" y1="328.7" x2="491.8" y2="777.4" stroke-width="6.2"/><line x1="471.8" y1="328.7" x2="511.8" y2="328.7"/><line x1="471.8" y1="777.4" x2="511.8" y2="777.4"/><line x1="516.7" y1="202.9" x2="516.7" y2="713.7" stroke-width="6.2"/><line x1="496.7" y1="202.9" x2="536.7" y2="202.9"/><line x1="496.7" y1="713.7" x2="536.7" y2="713.7"/><line x1="541.5" y1="105.6" x2="541.5" y2="675.9" stroke-width="6.2"/><line x1="521.5" y1="105.6" x2="561.5" y2="105.6"/><line x1="521.5" y1="675.9" x2="561.5" y2="675.9"/><line x1="665.7" y1="642.5" x2="665.7" y2="1087.1" stroke-width="6.2"/><line x1="645.7" y1="642.5" x2="685.7" y2="642.5"/><line x1="645.7" y1="1087.1" x2="685.7" y2="1087.1"/><line x1="690.6" y1="690.5" x2="690.6" y2="1088.5" stroke-width="6.2"/><line x1="670.6" y1="690.5" x2="710.6" y2="690.5"/><line x1="670.6" y1="1088.5" x2="710.6" y2="1088.5"/><line x1="715.4" y1="639.8" x2="715.4" y2="1056.7" stroke-width="6.2"/><line x1="695.4" y1="639.8" x2="735.4" y2="639.8"/><line x1="695.4" y1="1056.7" x2="735.4" y2="1056.7"/><line x1="740.2" y1="700.7" x2="740.2" y2="1088.5" stroke-width="6.2"/><line x1="720.2" y1="700.7" x2="760.2" y2="700.7"/><line x1="720.2" y1="1088.5" x2="760.2" y2="1088.5"/><line x1="765.1" y1="729.2" x2="765.1" y2="1087.1" stroke-width="6.2"/><line x1="745.1" y1="729.2" x2="785.1" y2="729.2"/><line x1="745.1" y1="1087.1" x2="785.1" y2="1087.1"/><line x1="789.9" y1="745.8" x2="789.9" y2="1085.7" stroke-width="6.2"/><line x1="769.9" y1="745.8" x2="809.9" y2="745.8"/><line x1="769.9" y1="1085.7" x2="809.9" y2="1085.7"/><line x1="814.8" y1="728.3" x2="814.8" y2="1062.2" stroke-width="6.2"/><line x1="794.8" y1="728.3" x2="834.8" y2="728.3"/><line x1="794.8" y1="1062.2" x2="834.8" y2="1062.2"/><line x1="819.6" y1="896.1" x2="859.6" y2="896.1"/><line x1="819.6" y1="900.7" x2="859.6" y2="900.7"/></g><path d="M268.3,1461.0 L293.1,1462.8 L318.0,1442.4 L342.8,1395.8 L367.6,1349.2 L392.5,1292.1 L417.3,1191.9 L442.2,1003.2 L467.0,716.7 L491.8,553.6 L516.7,458.1 L541.5,395.1 L665.7,869.3 L690.6,889.1 L715.4,861.1 L740.2,885.6 L765.1,901.9 L789.9,915.9 L814.8,894.9 L839.6,898.4" stroke-width="5.6" stroke-linejoin="round"/></g>
<g clip-path="url(#clipR)" stroke="#38b46a" stroke-linecap="round" fill="none"><g stroke-width="5.5"><line x1="873.3" y1="717.7" x2="873.3" y2="1020.4" stroke-width="6.2"/><line x1="853.3" y1="717.7" x2="893.3" y2="717.7"/><line x1="853.3" y1="1020.4" x2="893.3" y2="1020.4"/><line x1="898.2" y1="806.6" x2="898.2" y2="1072.7" stroke-width="6.2"/><line x1="878.2" y1="806.6" x2="918.2" y2="806.6"/><line x1="878.2" y1="1072.7" x2="918.2" y2="1072.7"/><line x1="923.0" y1="891.9" x2="923.0" y2="1127.8" stroke-width="6.2"/><line x1="903.0" y1="891.9" x2="943.0" y2="891.9"/><line x1="903.0" y1="1127.8" x2="943.0" y2="1127.8"/><line x1="947.9" y1="804.4" x2="947.9" y2="1072.7" stroke-width="6.2"/><line x1="927.9" y1="804.4" x2="967.9" y2="804.4"/><line x1="927.9" y1="1072.7" x2="967.9" y2="1072.7"/><line x1="972.8" y1="865.1" x2="972.8" y2="1102.2" stroke-width="6.2"/><line x1="952.8" y1="865.1" x2="992.8" y2="865.1"/><line x1="952.8" y1="1102.2" x2="992.8" y2="1102.2"/><line x1="997.6" y1="852.4" x2="997.6" y2="1096.7" stroke-width="6.2"/><line x1="977.6" y1="852.4" x2="1017.6" y2="852.4"/><line x1="977.6" y1="1096.7" x2="1017.6" y2="1096.7"/><line x1="1022.5" y1="815.7" x2="1022.5" y2="1081.2" stroke-width="6.2"/><line x1="1002.5" y1="815.7" x2="1042.5" y2="815.7"/><line x1="1002.5" y1="1081.2" x2="1042.5" y2="1081.2"/><line x1="1047.4" y1="812.2" x2="1047.4" y2="1081.2" stroke-width="6.2"/><line x1="1027.4" y1="812.2" x2="1067.4" y2="812.2"/><line x1="1027.4" y1="1081.2" x2="1067.4" y2="1081.2"/><line x1="1072.2" y1="827.2" x2="1072.2" y2="1088.3" stroke-width="6.2"/><line x1="1052.2" y1="827.2" x2="1092.2" y2="827.2"/><line x1="1052.2" y1="1088.3" x2="1092.2" y2="1088.3"/><line x1="1097.1" y1="902.3" x2="1097.1" y2="1124.8" stroke-width="6.2"/><line x1="1077.1" y1="902.3" x2="1117.1" y2="902.3"/><line x1="1077.1" y1="1124.8" x2="1117.1" y2="1124.8"/><line x1="1122.0" y1="879.9" x2="1122.0" y2="1122.0" stroke-width="6.2"/><line x1="1102.0" y1="879.9" x2="1142.0" y2="879.9"/><line x1="1102.0" y1="1122.0" x2="1142.0" y2="1122.0"/><line x1="1146.8" y1="922.6" x2="1146.8" y2="1159.7" stroke-width="6.2"/><line x1="1126.8" y1="922.6" x2="1166.8" y2="922.6"/><line x1="1126.8" y1="1159.7" x2="1166.8" y2="1159.7"/><line x1="1171.7" y1="866.4" x2="1171.7" y2="1123.7" stroke-width="6.2"/><line x1="1151.7" y1="866.4" x2="1191.7" y2="866.4"/><line x1="1151.7" y1="1123.7" x2="1191.7" y2="1123.7"/><line x1="1196.6" y1="849.6" x2="1196.6" y2="1103.5" stroke-width="6.2"/><line x1="1176.6" y1="849.6" x2="1216.6" y2="849.6"/><line x1="1176.6" y1="1103.5" x2="1216.6" y2="1103.5"/><line x1="1221.4" y1="796.3" x2="1221.4" y2="1069.9" stroke-width="6.2"/><line x1="1201.4" y1="796.3" x2="1241.4" y2="796.3"/><line x1="1201.4" y1="1069.9" x2="1241.4" y2="1069.9"/><line x1="1246.3" y1="796.7" x2="1246.3" y2="1064.2" stroke-width="6.2"/><line x1="1226.3" y1="796.7" x2="1266.3" y2="796.7"/><line x1="1226.3" y1="1064.2" x2="1266.3" y2="1064.2"/><line x1="1271.2" y1="823.2" x2="1271.2" y2="1065.2" stroke-width="6.2"/><line x1="1251.2" y1="823.2" x2="1291.2" y2="823.2"/><line x1="1251.2" y1="1065.2" x2="1291.2" y2="1065.2"/><line x1="1296.0" y1="782.9" x2="1296.0" y2="1069.0" stroke-width="6.2"/><line x1="1276.0" y1="782.9" x2="1316.0" y2="782.9"/><line x1="1276.0" y1="1069.0" x2="1316.0" y2="1069.0"/><line x1="1320.9" y1="739.4" x2="1320.9" y2="1022.6" stroke-width="6.2"/><line x1="1300.9" y1="739.4" x2="1340.9" y2="739.4"/><line x1="1300.9" y1="1022.6" x2="1340.9" y2="1022.6"/><line x1="1345.8" y1="688.4" x2="1345.8" y2="980.6" stroke-width="6.2"/><line x1="1325.8" y1="688.4" x2="1365.8" y2="688.4"/><line x1="1325.8" y1="980.6" x2="1365.8" y2="980.6"/><line x1="1370.6" y1="839.4" x2="1370.6" y2="1090.9" stroke-width="6.2"/><line x1="1350.6" y1="839.4" x2="1390.6" y2="839.4"/><line x1="1350.6" y1="1090.9" x2="1390.6" y2="1090.9"/><line x1="1395.5" y1="795.8" x2="1395.5" y2="1047.4" stroke-width="6.2"/><line x1="1375.5" y1="795.8" x2="1415.5" y2="795.8"/><line x1="1375.5" y1="1047.4" x2="1415.5" y2="1047.4"/><line x1="1420.4" y1="807.1" x2="1420.4" y2="1052.3" stroke-width="6.2"/><line x1="1400.4" y1="807.1" x2="1440.4" y2="807.1"/><line x1="1400.4" y1="1052.3" x2="1440.4" y2="1052.3"/><line x1="1445.2" y1="808.7" x2="1445.2" y2="1054.5" stroke-width="6.2"/><line x1="1425.2" y1="808.7" x2="1465.2" y2="808.7"/><line x1="1425.2" y1="1054.5" x2="1465.2" y2="1054.5"/><line x1="1470.1" y1="785.7" x2="1470.1" y2="1045.3" stroke-width="6.2"/><line x1="1450.1" y1="785.7" x2="1490.1" y2="785.7"/><line x1="1450.1" y1="1045.3" x2="1490.1" y2="1045.3"/><line x1="1495.0" y1="772.1" x2="1495.0" y2="1048.4" stroke-width="6.2"/><line x1="1475.0" y1="772.1" x2="1515.0" y2="772.1"/><line x1="1475.0" y1="1048.4" x2="1515.0" y2="1048.4"/><line x1="1519.8" y1="762.3" x2="1519.8" y2="1028.5" stroke-width="6.2"/><line x1="1499.8" y1="762.3" x2="1539.8" y2="762.3"/><line x1="1499.8" y1="1028.5" x2="1539.8" y2="1028.5"/><line x1="1544.7" y1="788.9" x2="1544.7" y2="1054.5" stroke-width="6.2"/><line x1="1524.7" y1="788.9" x2="1564.7" y2="788.9"/><line x1="1524.7" y1="1054.5" x2="1564.7" y2="1054.5"/><line x1="1569.5" y1="782.8" x2="1569.5" y2="1046.8" stroke-width="6.2"/><line x1="1549.5" y1="782.8" x2="1589.5" y2="782.8"/><line x1="1549.5" y1="1046.8" x2="1589.5" y2="1046.8"/><line x1="1594.4" y1="747.6" x2="1594.4" y2="1030.0" stroke-width="6.2"/><line x1="1574.4" y1="747.6" x2="1614.4" y2="747.6"/><line x1="1574.4" y1="1030.0" x2="1614.4" y2="1030.0"/><line x1="1619.3" y1="820.9" x2="1619.3" y2="1100.7" stroke-width="6.2"/><line x1="1599.3" y1="820.9" x2="1639.3" y2="820.9"/><line x1="1599.3" y1="1100.7" x2="1639.3" y2="1100.7"/><line x1="1644.1" y1="776.9" x2="1644.1" y2="1054.0" stroke-width="6.2"/><line x1="1624.1" y1="776.9" x2="1664.1" y2="776.9"/><line x1="1624.1" y1="1054.0" x2="1664.1" y2="1054.0"/><line x1="1669.0" y1="728.5" x2="1669.0" y2="1022.3" stroke-width="6.2"/><line x1="1649.0" y1="728.5" x2="1689.0" y2="728.5"/><line x1="1649.0" y1="1022.3" x2="1689.0" y2="1022.3"/><line x1="1693.9" y1="713.5" x2="1693.9" y2="1005.6" stroke-width="6.2"/><line x1="1673.9" y1="713.5" x2="1713.9" y2="713.5"/><line x1="1673.9" y1="1005.6" x2="1713.9" y2="1005.6"/><line x1="1718.7" y1="716.8" x2="1718.7" y2="997.3" stroke-width="6.2"/><line x1="1698.7" y1="716.8" x2="1738.7" y2="716.8"/><line x1="1698.7" y1="997.3" x2="1738.7" y2="997.3"/><line x1="1743.6" y1="719.0" x2="1743.6" y2="999.0" stroke-width="6.2"/><line x1="1723.6" y1="719.0" x2="1763.6" y2="719.0"/><line x1="1723.6" y1="999.0" x2="1763.6" y2="999.0"/><line x1="1768.5" y1="706.8" x2="1768.5" y2="997.3" stroke-width="6.2"/><line x1="1748.5" y1="706.8" x2="1788.5" y2="706.8"/><line x1="1748.5" y1="997.3" x2="1788.5" y2="997.3"/><line x1="1793.3" y1="805.0" x2="1793.3" y2="1042.7" stroke-width="6.2"/><line x1="1773.3" y1="805.0" x2="1813.3" y2="805.0"/><line x1="1773.3" y1="1042.7" x2="1813.3" y2="1042.7"/><line x1="1818.2" y1="710.3" x2="1818.2" y2="1005.6" stroke-width="6.2"/><line x1="1798.2" y1="710.3" x2="1838.2" y2="710.3"/><line x1="1798.2" y1="1005.6" x2="1838.2" y2="1005.6"/><line x1="1843.1" y1="725.2" x2="1843.1" y2="1029.8" stroke-width="6.2"/><line x1="1823.1" y1="725.2" x2="1863.1" y2="725.2"/><line x1="1823.1" y1="1029.8" x2="1863.1" y2="1029.8"/><line x1="1867.9" y1="697.4" x2="1867.9" y2="1002.1" stroke-width="6.2"/><line x1="1847.9" y1="697.4" x2="1887.9" y2="697.4"/><line x1="1847.9" y1="1002.1" x2="1887.9" y2="1002.1"/><line x1="1892.8" y1="639.2" x2="1892.8" y2="979.9" stroke-width="6.2"/><line x1="1872.8" y1="639.2" x2="1912.8" y2="639.2"/><line x1="1872.8" y1="979.9" x2="1912.8" y2="979.9"/><line x1="1917.7" y1="751.6" x2="1917.7" y2="1020.6" stroke-width="6.2"/><line x1="1897.7" y1="751.6" x2="1937.7" y2="751.6"/><line x1="1897.7" y1="1020.6" x2="1937.7" y2="1020.6"/><line x1="1942.5" y1="724.0" x2="1942.5" y2="1018.7" stroke-width="6.2"/><line x1="1922.5" y1="724.0" x2="1962.5" y2="724.0"/><line x1="1922.5" y1="1018.7" x2="1962.5" y2="1018.7"/><line x1="1967.4" y1="769.8" x2="1967.4" y2="1032.3" stroke-width="6.2"/><line x1="1947.4" y1="769.8" x2="1987.4" y2="769.8"/><line x1="1947.4" y1="1032.3" x2="1987.4" y2="1032.3"/><line x1="1992.3" y1="740.5" x2="1992.3" y2="1016.9" stroke-width="6.2"/><line x1="1972.3" y1="740.5" x2="2012.3" y2="740.5"/><line x1="1972.3" y1="1016.9" x2="2012.3" y2="1016.9"/><line x1="2017.1" y1="740.5" x2="2017.1" y2="1034.4" stroke-width="6.2"/><line x1="1997.1" y1="740.5" x2="2037.1" y2="740.5"/><line x1="1997.1" y1="1034.4" x2="2037.1" y2="1034.4"/><line x1="2042.0" y1="707.2" x2="2042.0" y2="1008.9" stroke-width="6.2"/><line x1="2022.0" y1="707.2" x2="2062.0" y2="707.2"/><line x1="2022.0" y1="1008.9" x2="2062.0" y2="1008.9"/><line x1="2066.9" y1="666.0" x2="2066.9" y2="985.4" stroke-width="6.2"/><line x1="2046.9" y1="666.0" x2="2086.9" y2="666.0"/><line x1="2046.9" y1="985.4" x2="2086.9" y2="985.4"/><line x1="2091.7" y1="617.1" x2="2091.7" y2="969.7" stroke-width="6.2"/><line x1="2071.7" y1="617.1" x2="2111.7" y2="617.1"/><line x1="2071.7" y1="969.7" x2="2111.7" y2="969.7"/><line x1="2116.6" y1="534.8" x2="2116.6" y2="934.5" stroke-width="6.2"/><line x1="2096.6" y1="534.8" x2="2136.6" y2="534.8"/><line x1="2096.6" y1="934.5" x2="2136.6" y2="934.5"/><line x1="2141.5" y1="395.7" x2="2141.5" y2="834.5" stroke-width="6.2"/><line x1="2121.5" y1="395.7" x2="2161.5" y2="395.7"/><line x1="2121.5" y1="834.5" x2="2161.5" y2="834.5"/><line x1="2146.3" y1="1548.4" x2="2186.3" y2="1548.4"/><line x1="2146.3" y1="1548.4" x2="2186.3" y2="1548.4"/><line x1="2171.2" y1="1548.4" x2="2211.2" y2="1548.4"/><line x1="2171.2" y1="1548.4" x2="2211.2" y2="1548.4"/></g><path d="M873.3,866.9 L898.2,931.0 L923.0,1008.6 L947.9,941.5 L972.8,979.2 L997.6,973.2 L1022.5,949.3 L1047.4,946.3 L1072.2,955.2 L1097.1,1014.6 L1122.0,1000.1 L1146.8,1037.1 L1171.7,992.2 L1196.6,974.2 L1221.4,937.2 L1246.3,924.8 L1271.2,955.5 L1296.0,929.7 L1320.9,887.7 L1345.8,832.9 L1370.6,965.3 L1395.5,921.7 L1420.4,934.0 L1445.2,933.9 L1470.1,915.5 L1495.0,905.4 L1519.8,893.7 L1544.7,920.8 L1569.5,913.2 L1594.4,892.2 L1619.3,948.0 L1644.1,914.7 L1669.0,876.6 L1693.9,863.7 L1718.7,857.1 L1743.6,857.1 L1768.5,854.5 L1793.3,924.8 L1818.2,854.5 L1843.1,874.7 L1867.9,841.5 L1892.8,810.4 L1917.7,884.2 L1942.5,873.2 L1967.4,899.2 L1992.3,879.6 L2017.1,887.6 L2042.0,855.6 L2066.9,819.8 L2091.7,789.7 L2116.6,733.0 L2141.5,599.5 L2166.3,1548.4 L2191.2,1548.4" stroke-width="5.6" stroke-linejoin="round"/></g>
<g stroke="#000" stroke-width="6.5" fill="none" stroke-linecap="butt">
<path d="M839.6,56.6 L273.5,56.6 L273.5,1664.5 L839.6,1664.5"/>
<path d="M873.8,56.6 L2238.0,56.6 L2238.0,1664.5 L873.8,1664.5"/>
</g>
<g stroke="#000" stroke-width="6" stroke-linecap="round">
<line x1="823.4" y1="1689.3" x2="855.8" y2="1640.2"/>
<line x1="857.3" y1="1689.3" x2="890" y2="1640.2"/>
<line x1="824.2" y1="80.9" x2="855.4" y2="33.7"/>
<line x1="858.4" y1="80.9" x2="889.7" y2="33.7"/>
</g>
<g stroke="#000" stroke-width="6"><line x1="247.4" y1="1548.4" x2="273.5" y2="1548.4"/><line x1="247.4" y1="1315.4" x2="273.5" y2="1315.4"/><line x1="247.4" y1="1082.4" x2="273.5" y2="1082.4"/><line x1="247.4" y1="849.5" x2="273.5" y2="849.5"/><line x1="247.4" y1="616.5" x2="273.5" y2="616.5"/><line x1="247.4" y1="383.5" x2="273.5" y2="383.5"/><line x1="247.4" y1="150.5" x2="273.5" y2="150.5"/><line x1="260.5" y1="1431.9" x2="273.5" y2="1431.9"/><line x1="260.5" y1="1198.9" x2="273.5" y2="1198.9"/><line x1="260.5" y1="966.0" x2="273.5" y2="966.0"/><line x1="260.5" y1="733.0" x2="273.5" y2="733.0"/><line x1="260.5" y1="500.0" x2="273.5" y2="500.0"/><line x1="260.5" y1="267.0" x2="273.5" y2="267.0"/><line x1="467.0" y1="1664.5" x2="467.0" y2="1689.5"/><line x1="715.4" y1="1664.5" x2="715.4" y2="1689.5"/><line x1="342.8" y1="1664.5" x2="342.8" y2="1676.5"/><line x1="591.2" y1="1664.5" x2="591.2" y2="1676.5"/><line x1="873.3" y1="1664.5" x2="873.3" y2="1689.5"/><line x1="1122.0" y1="1664.5" x2="1122.0" y2="1689.5"/><line x1="1370.6" y1="1664.5" x2="1370.6" y2="1689.5"/><line x1="1619.3" y1="1664.5" x2="1619.3" y2="1689.5"/><line x1="1867.9" y1="1664.5" x2="1867.9" y2="1689.5"/><line x1="2116.6" y1="1664.5" x2="2116.6" y2="1689.5"/><line x1="997.6" y1="1664.5" x2="997.6" y2="1676.5"/><line x1="1246.3" y1="1664.5" x2="1246.3" y2="1676.5"/><line x1="1495.0" y1="1664.5" x2="1495.0" y2="1676.5"/><line x1="1743.6" y1="1664.5" x2="1743.6" y2="1676.5"/><line x1="1992.3" y1="1664.5" x2="1992.3" y2="1676.5"/></g>
<g font-family="Liberation Sans, Arial, sans-serif" font-size="76" fill="#000"><text x="226" y="1570.4" text-anchor="end">0.0</text><text x="226" y="1337.4" text-anchor="end">0.2</text><text x="226" y="1104.4" text-anchor="end">0.4</text><text x="226" y="871.5" text-anchor="end">0.6</text><text x="226" y="638.5" text-anchor="end">0.8</text><text x="226" y="405.5" text-anchor="end">1.0</text><text x="226" y="172.5" text-anchor="end">1.2</text><text x="467.0" y="1767" text-anchor="middle">100</text><text x="715.4" y="1767" text-anchor="middle">200</text><text x="873.3" y="1767" text-anchor="middle">600</text><text x="1122.0" y="1767" text-anchor="middle">700</text><text x="1370.6" y="1767" text-anchor="middle">800</text><text x="1619.3" y="1767" text-anchor="middle">900</text><text x="1867.9" y="1767" text-anchor="middle">1000</text><text x="2116.6" y="1767" text-anchor="middle">1100</text></g>
<text font-family="Liberation Sans, Arial, sans-serif" font-size="68" text-anchor="middle" transform="translate(73,830) rotate(-90)">Impedance (ohm)</text>
<text font-family="Liberation Sans, Arial, sans-serif" font-size="68" text-anchor="middle" x="1226" y="1852" transform="translate(1226,0) scale(1.057,1) translate(-1226,0)">Time(h)</text>
<g font-family="Liberation Sans, Arial, sans-serif" font-size="63" fill="#000">
<text x="731" y="181.9" transform="translate(731,0) scale(1.025,1) translate(-731,0)">1° Dose</text>
<text x="731" y="258.3" transform="translate(731,0) scale(1.025,1) translate(-731,0)">24 h</text>
<text x="731" y="333.5" transform="translate(731,0) scale(1.025,1) translate(-731,0)">48 h</text>
<text x="1564" y="179.6" transform="translate(1564,0) scale(1.025,1) translate(-1564,0)">2° Dose</text>
<text x="1564" y="254.9" transform="translate(1564,0) scale(1.025,1) translate(-1564,0)">24 h</text>
<text x="1564" y="331.3" transform="translate(1564,0) scale(1.025,1) translate(-1564,0)">48 h</text>
</g>
<line x1="861.5" y1="258.5" x2="1024.7" y2="362.4" stroke="#000" stroke-width="5.5" stroke-linecap="round"/><path d="M1050.8,379.1 L1016.2,368.3 L1026.4,352.3 Z" fill="#000" stroke="#000" stroke-width="3" stroke-linejoin="round"/>
<line x1="872.0" y1="334.0" x2="1073.5" y2="463.5" stroke="#000" stroke-width="5.5" stroke-linecap="round"/><path d="M1099.6,480.3 L1065.0,469.4 L1075.3,453.4 Z" fill="#000" stroke="#000" stroke-width="3" stroke-linejoin="round"/>
<line x1="1699.0" y1="256.0" x2="1862.6" y2="359.9" stroke="#000" stroke-width="5.5" stroke-linecap="round"/><path d="M1888.8,376.5 L1854.2,365.8 L1864.3,349.7 Z" fill="#000" stroke="#000" stroke-width="3" stroke-linejoin="round"/>
<line x1="1709.0" y1="328.5" x2="1912.9" y2="457.0" stroke="#000" stroke-width="5.5" stroke-linecap="round"/><path d="M1939.1,473.5 L1904.4,462.9 L1914.6,446.8 Z" fill="#000" stroke="#000" stroke-width="3" stroke-linejoin="round"/>
<line x1="446.5" y1="1348.3" x2="511" y2="1348.3" stroke="#505050" stroke-width="6" stroke-linecap="round"/>
<text font-family="Liberation Sans, Arial, sans-serif" font-size="56" x="558" y="1366.8" transform="translate(558,0) scale(1.04,1) translate(-558,0)">CTR</text>
<line x1="446.5" y1="1423.7" x2="511" y2="1423.7" stroke="#f64040" stroke-width="6" stroke-linecap="round"/>
<text font-family="Liberation Sans, Arial, sans-serif" font-size="56" x="558" y="1443" transform="translate(558,0) scale(1.04,1) translate(-558,0)">PC 80 μg/mL</text>
<line x1="446.5" y1="1498.8" x2="511" y2="1498.8" stroke="#1866e2" stroke-width="6" stroke-linecap="round"/>
<text font-family="Liberation Sans, Arial, sans-serif" font-size="56" x="558" y="1518" transform="translate(558,0) scale(1.04,1) translate(-558,0)">PET1 80 μg/mL</text>
<line x1="446.5" y1="1574.2" x2="511" y2="1574.2" stroke="#38b46a" stroke-width="6" stroke-linecap="round"/>
<text font-family="Liberation Sans, Arial, sans-serif" font-size="56" x="558" y="1593.2" transform="translate(558,0) scale(1.04,1) translate(-558,0)">PET2 80 μg/mL</text></svg>
</body></html>
